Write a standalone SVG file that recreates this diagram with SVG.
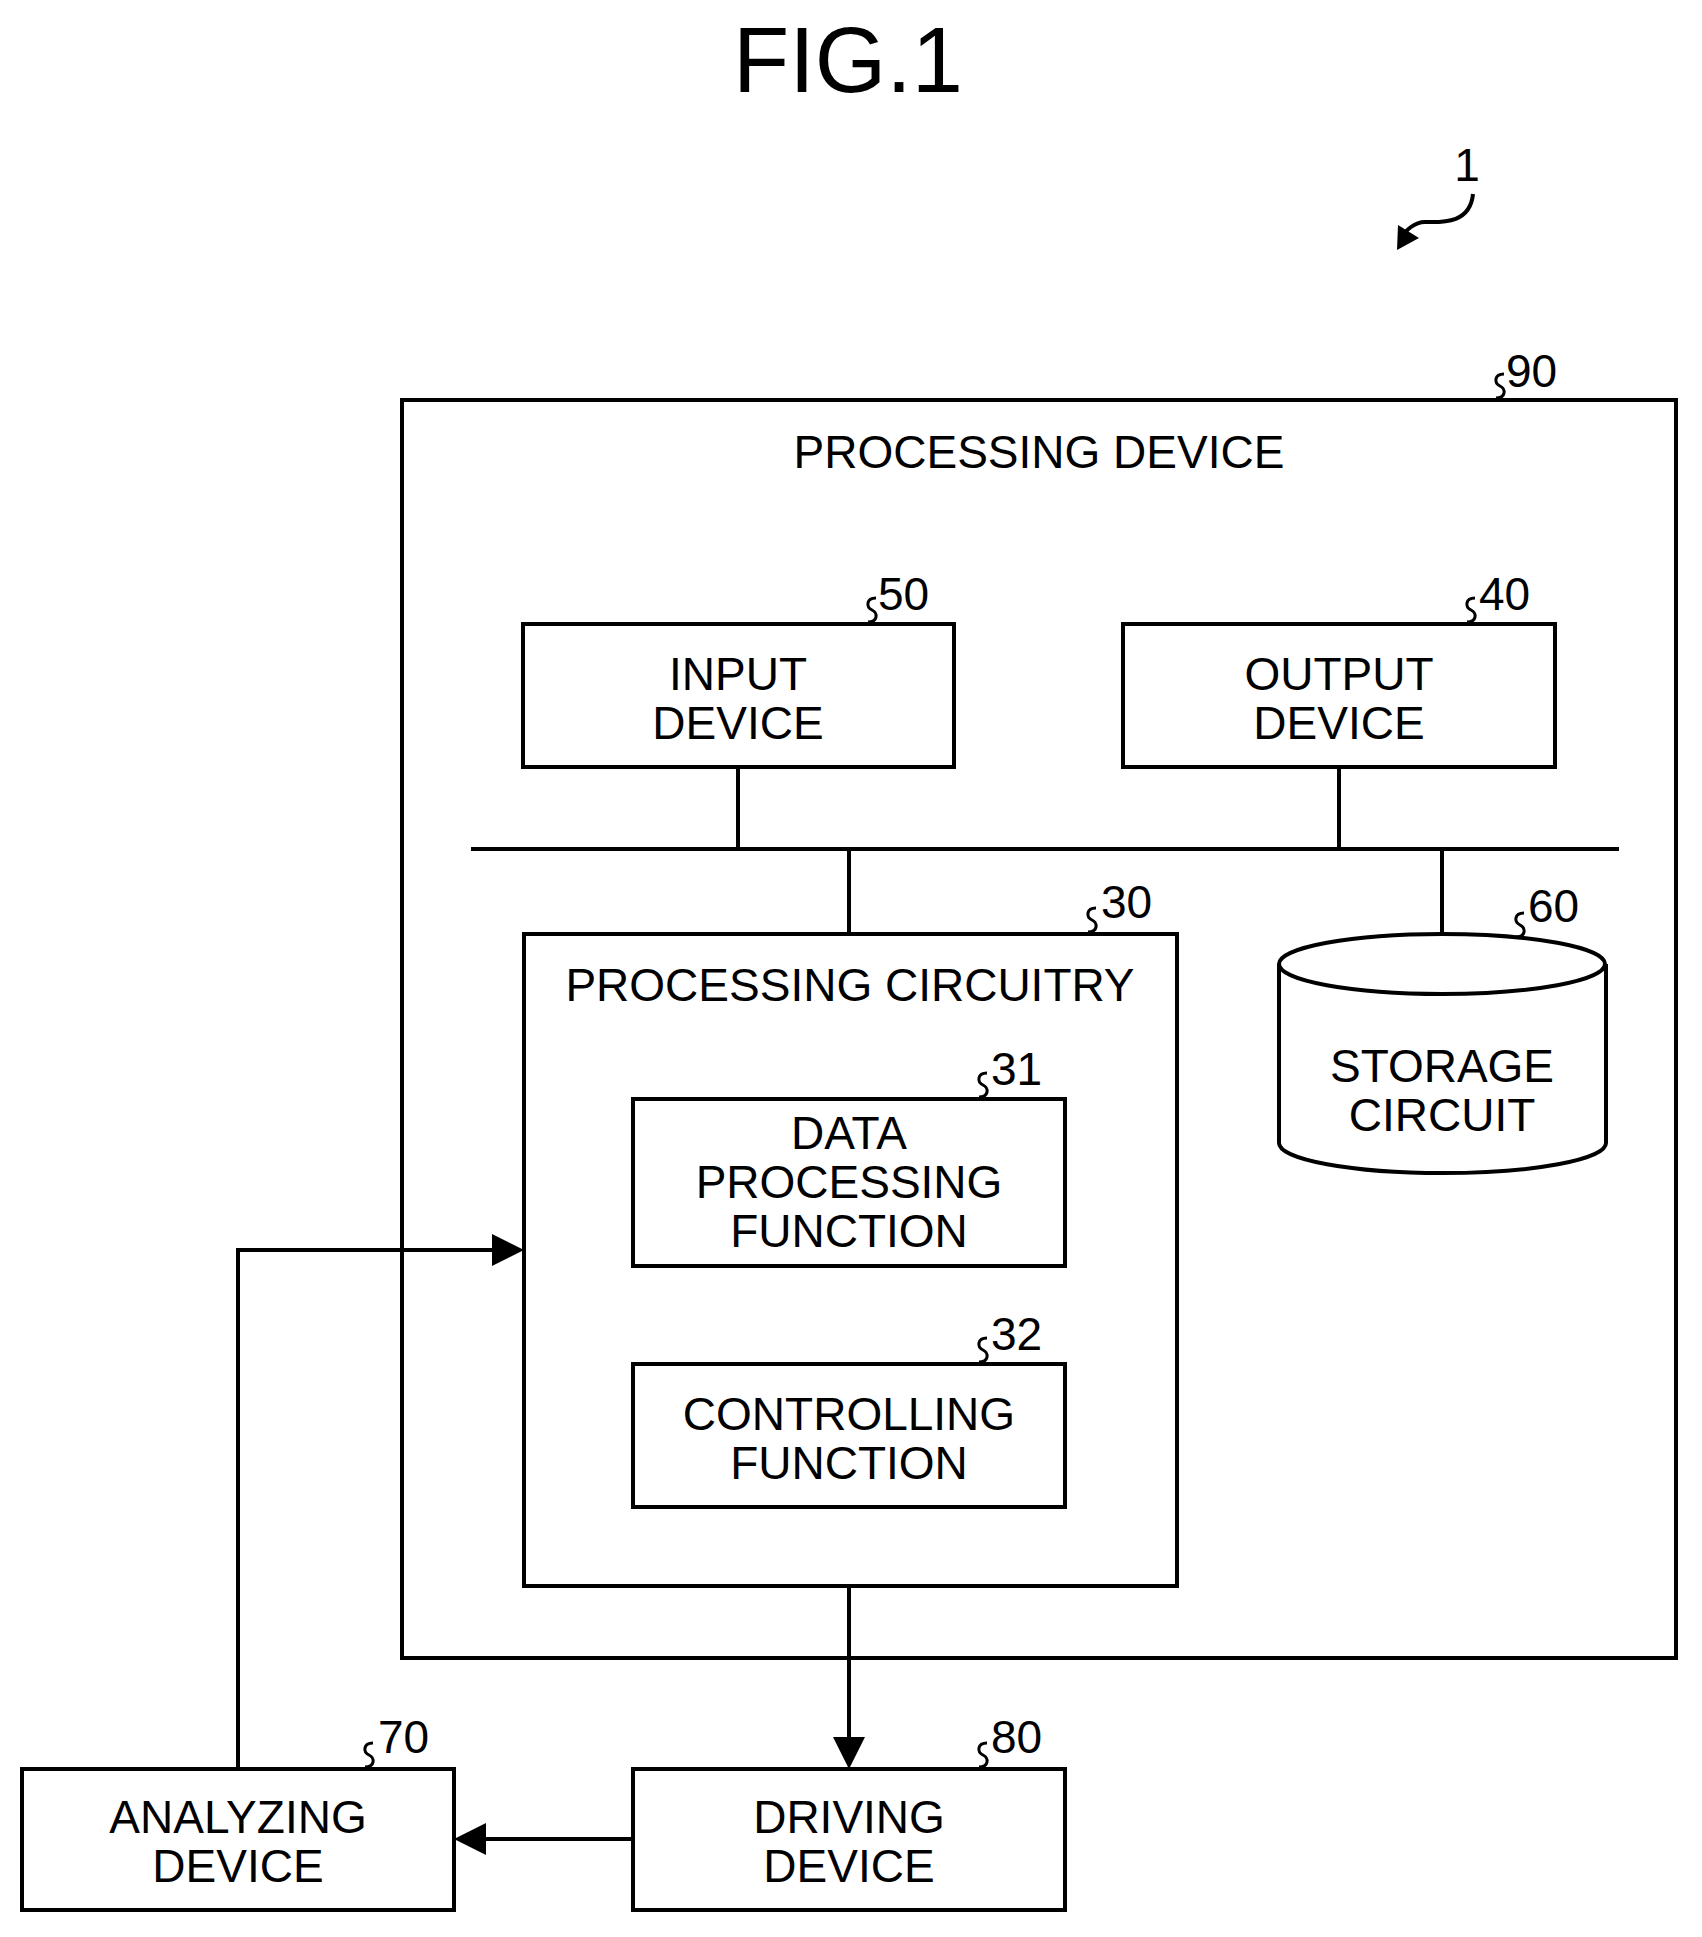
<svg xmlns="http://www.w3.org/2000/svg" width="1702" height="1937" viewBox="0 0 1702 1937">
<style>
.b{fill:#fff;stroke:#000;stroke-width:4}
.l{fill:none;stroke:#000;stroke-width:4}
.s{fill:none;stroke:#000;stroke-width:3}
text{font-family:"Liberation Sans",Arial,sans-serif;font-size:46px;fill:#000}
.c{text-anchor:middle}
</style>
<defs>
<marker id="a" markerWidth="8" markerHeight="8" refX="7" refY="4" orient="auto" markerUnits="strokeWidth"><path d="M0,0 L8,4 L0,8 Z" fill="#000"/></marker>
<path id="q" d="M0,0 c-10,0 -10,-9 -4,-12 c6,-3 6,-12 -4,-12" class="s" transform="scale(-1,1)"/>
</defs>
<rect width="1702" height="1937" fill="#fff"/>
<text x="848" y="92" class="c" style="font-size:92px">FIG.1</text>
<text x="1467" y="181" class="c">1</text>
<path d="M1473,194 C1470,225 1440,222 1425,222 C1415,222 1405,230 1400,240" class="l"/>
<path d="M1397,250 L1398,225 L1419,238 Z" fill="#000"/>
<g id="n90"><rect x="402" y="400" width="1274" height="1258" class="b"/>
<text x="1039" y="468" class="c">PROCESSING DEVICE</text>
<use href="#q" x="1496" y="398"/><text x="1506" y="387">90</text></g>
<g id="connectors">
<line x1="471" y1="849" x2="1619" y2="849" class="l"/>
<line x1="738" y1="767" x2="738" y2="849" class="l"/>
<line x1="1339" y1="767" x2="1339" y2="849" class="l"/>
<line x1="849" y1="849" x2="849" y2="934" class="l"/>
<line x1="1442" y1="849" x2="1442" y2="936" class="l"/>
<line x1="849" y1="1586" x2="849" y2="1765" class="l" marker-end="url(#a)"/>
<line x1="633" y1="1839" x2="458" y2="1839" class="l" marker-end="url(#a)"/>
<polyline points="238,1769 238,1250 520,1250" class="l" marker-end="url(#a)"/>
</g>
<g id="n50"><rect x="523" y="624" width="431" height="143" class="b"/>
<text x="738" y="690" class="c">INPUT</text><text x="738" y="739" class="c">DEVICE</text>
<use href="#q" x="868" y="622"/><text x="878" y="610">50</text></g>
<g id="n40"><rect x="1123" y="624" width="432" height="143" class="b"/>
<text x="1339" y="690" class="c">OUTPUT</text><text x="1339" y="739" class="c">DEVICE</text>
<use href="#q" x="1467" y="622"/><text x="1479" y="610">40</text></g>
<g id="n30"><rect x="524" y="934" width="653" height="652" class="b"/>
<text x="850" y="1001" class="c">PROCESSING CIRCUITRY</text>
<use href="#q" x="1088" y="932"/><text x="1101" y="918">30</text></g>
<g id="n60"><path d="M1279,964 L1279,1143 A163,30 0 0 0 1606,1143 L1606,964" class="b"/>
<ellipse cx="1442" cy="964" rx="163" ry="30" class="b"/>
<text x="1442" y="1082" class="c">STORAGE</text><text x="1442" y="1131" class="c">CIRCUIT</text>
<use href="#q" x="1516" y="937"/><text x="1528" y="922">60</text></g>
<g id="n31"><rect x="633" y="1099" width="432" height="167" class="b"/>
<text x="849" y="1149" class="c">DATA</text><text x="849" y="1198" class="c">PROCESSING</text><text x="849" y="1247" class="c">FUNCTION</text>
<use href="#q" x="979" y="1097"/><text x="991" y="1085">31</text></g>
<g id="n32"><rect x="633" y="1364" width="432" height="143" class="b"/>
<text x="849" y="1430" class="c">CONTROLLING</text><text x="849" y="1479" class="c">FUNCTION</text>
<use href="#q" x="979" y="1362"/><text x="991" y="1350">32</text></g>
<g id="n80"><rect x="633" y="1769" width="432" height="141" class="b"/>
<text x="849" y="1833" class="c">DRIVING</text><text x="849" y="1882" class="c">DEVICE</text>
<use href="#q" x="979" y="1767"/><text x="991" y="1753">80</text></g>
<g id="n70"><rect x="22" y="1769" width="432" height="141" class="b"/>
<text x="238" y="1833" class="c">ANALYZING</text><text x="238" y="1882" class="c">DEVICE</text>
<use href="#q" x="365" y="1767"/><text x="378" y="1753">70</text></g>
</svg>
